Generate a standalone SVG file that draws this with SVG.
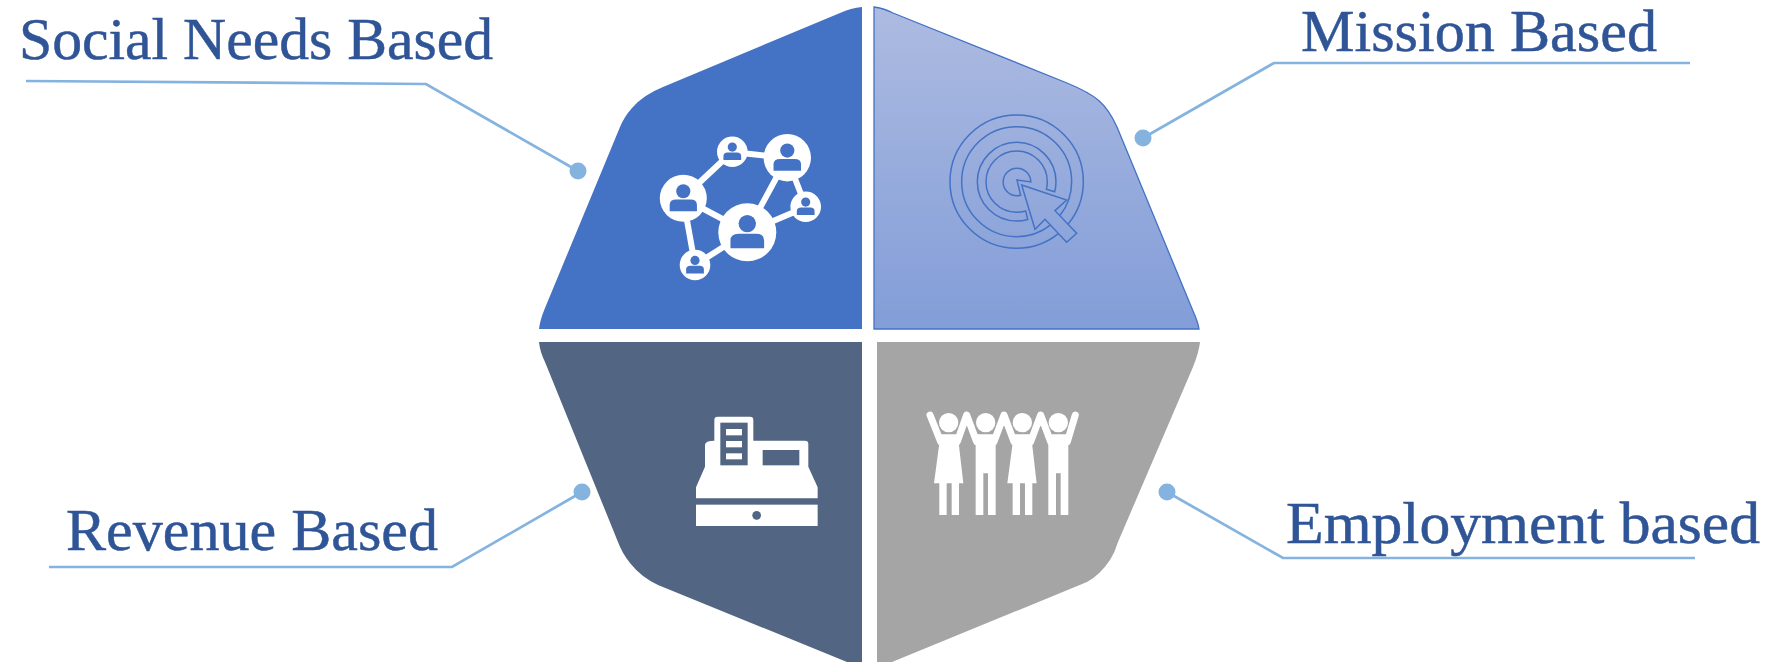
<svg xmlns="http://www.w3.org/2000/svg" width="1773" height="662" viewBox="0 0 1773 662">
<style>
.lbl{font-family:"Liberation Serif","Times New Roman",serif;font-size:60px;fill:#2F5597;stroke:#2F5597;stroke-width:.5}
.ln{fill:none;stroke:#85B3E0;stroke-width:2.7}
.dot{fill:#85B3E0}
.edge{stroke:#fff;stroke-width:6;fill:none}
.tg{fill:none;stroke:#4472C4;stroke-width:4.5}
.arm{stroke:#fff;stroke-width:21;stroke-linecap:round;stroke-linejoin:round;fill:none}
</style>
<defs>
<linearGradient id="g" x1="0" y1="0" x2="0" y2="1"><stop offset="0" stop-color="#ADBBE1"/><stop offset="1" stop-color="#829DD8"/></linearGradient>
<g id="p">
<circle r="1" fill="#fff"/>
<circle cy="-.3" r=".3" fill="#4472C4"/>
<path d="M-.58 .55V.28Q-.58 .05-.3 .05H.3Q.58 .05 .58 .28V.55Z" fill="#4472C4"/>
</g>
<g id="woman">
<path d="M-30 38H30L30 72L43 185H30V280H8V185H-7V280H-29V185H-45L-30 72Z" fill="#fff"/>
</g>
<g id="man">
<path d="M-30 38H30V280H7V155H-7V280H-30Z" fill="#fff"/>
</g>
</defs>

<g id="connectors">
<polyline class="ln" points="26,81 426,84 578,171"/>
<polyline class="ln" points="1143,138 1274,63 1690,63"/>
<polyline class="ln" points="582,492 452,567 49,567"/>
<polyline class="ln" points="1167,492 1283,558 1695,558"/>
<circle class="dot" cx="578" cy="171" r="8.5"/>
<circle class="dot" cx="1143" cy="138" r="8.5"/>
<circle class="dot" cx="582" cy="492" r="8.5"/>
<circle class="dot" cx="1167" cy="492" r="8.5"/>
</g>

<g id="social-needs">
<path d="M862 7Q851 8 840 13L663 87Q643 95 632 108Q624 117 620 127L545 308Q540 320 539 329H862Z" fill="#4472C4"/>
<path class="edge" d="M683 198L732 152L787 158L806 207L747 232L787 158M683 198L747 232L695 265Z"/>
<use href="#p" transform="translate(683.3 198.3) scale(23.5)"/>
<use href="#p" transform="translate(732.3 151.7) scale(15.3)"/>
<use href="#p" transform="translate(787.3 157.7) scale(23.7)"/>
<use href="#p" transform="translate(805.7 206.7) scale(15.3)"/>
<use href="#p" transform="translate(747.3 232.3) scale(29)"/>
<use href="#p" transform="translate(695 265) scale(15.3)"/>
<text class="lbl" x="19" y="59" textLength="474" lengthAdjust="spacingAndGlyphs">Social Needs Based</text>
</g>

<g id="mission">
<path d="M874 7Q883 8 893 13L1067 83C1096 95 1106 103 1117 127L1193 311Q1198 322 1199 329H874Z" fill="url(#g)" stroke="#4472C4" stroke-width="1.3"/>
<g transform="translate(920 100) scale(.3333)">
<path class="tg" d="M443.9 372.8A200 200 0 0 0 490 245A200 200 0 0 0 290 45A200 200 0 0 0 90 245A200 200 0 0 0 290 445A200 200 0 0 0 415.2 401"/>
<path class="tg" d="M419.3 347.4A165 165 0 0 0 455 245A165 165 0 0 0 290 80A165 165 0 0 0 125 245A165 165 0 0 0 290 410A165 165 0 0 0 391.2 375.3"/>
<path class="tg" d="M404 275.5A118 118 0 0 0 408 245A118 118 0 0 0 290 127A118 118 0 0 0 172 245A118 118 0 0 0 290 363A118 118 0 0 0 323.1 358.3L317 333A92 92 0 0 1 290 337A92 92 0 0 1 198 245A92 92 0 0 1 290 153A92 92 0 0 1 382 245A92 92 0 0 1 379 268Z"/>
<path class="tg" d="M291 240L332.5 246A41.5 41.5 0 0 0 291 204.5A41.5 41.5 0 0 0 249.5 246A41.5 41.5 0 0 0 291 287.5A41.5 41.5 0 0 0 302 286Z"/>
<path class="tg" d="M305 255L440 300L405 332L470 400L440 427L375 358L345 388Z"/>
</g>
<text class="lbl" x="1301" y="51" textLength="356" lengthAdjust="spacingAndGlyphs">Mission Based</text>
</g>

<g id="revenue">
<path d="M539 342H862V662H847L658 585Q641 577 630 563Q622 553 618 542L545 362Q540 352 539 342Z" fill="#526582"/>
<g transform="translate(670 400) scale(.3333)">
<path d="M133 60Q133 50 143 50H240Q250 50 250 60V122H405Q415 122 415 132V200L443 262V295H78V262L105 200V135Q105 122 133 122Z" fill="#fff"/>
<rect x="151" y="68" width="82" height="128" fill="#526582"/>
<rect x="168" y="87" width="48" height="19" fill="#fff"/>
<rect x="168" y="123" width="48" height="19" fill="#fff"/>
<rect x="168" y="160" width="48" height="18" fill="#fff"/>
<rect x="278" y="150" width="110" height="46" fill="#526582"/>
<rect x="78" y="314" width="365" height="64" fill="#fff"/>
<circle cx="260" cy="346" r="13" fill="#526582"/>
</g>
<text class="lbl" x="66" y="550" textLength="372" lengthAdjust="spacingAndGlyphs">Revenue Based</text>
</g>

<g id="employment">
<path d="M877 342H1200Q1199 352 1193 367L1118 542Q1115 552 1110 560Q1100 575 1087 582L892 662H877Z" fill="#A5A5A5"/>
<g transform="translate(900 395) scale(.3333)">
<path class="arm" d="M90 60L122 140M172 140L200 60L230 140M282 140L312 60L342 140M392 140L422 60L452 140M502 140L526 60"/>
<circle cx="146" cy="83" r="29" fill="#fff"/>
<circle cx="257" cy="83" r="29" fill="#fff"/>
<circle cx="367" cy="83" r="29" fill="#fff"/>
<circle cx="475" cy="83" r="29" fill="#fff"/>
<use href="#woman" transform="translate(147 80)"/>
<use href="#man" transform="translate(257 80)"/>
<use href="#woman" transform="translate(367 80)"/>
<use href="#man" transform="translate(475 80)"/>
</g>
<text class="lbl" x="1286" y="543" textLength="474" lengthAdjust="spacingAndGlyphs">Employment based</text>
</g>
</svg>
